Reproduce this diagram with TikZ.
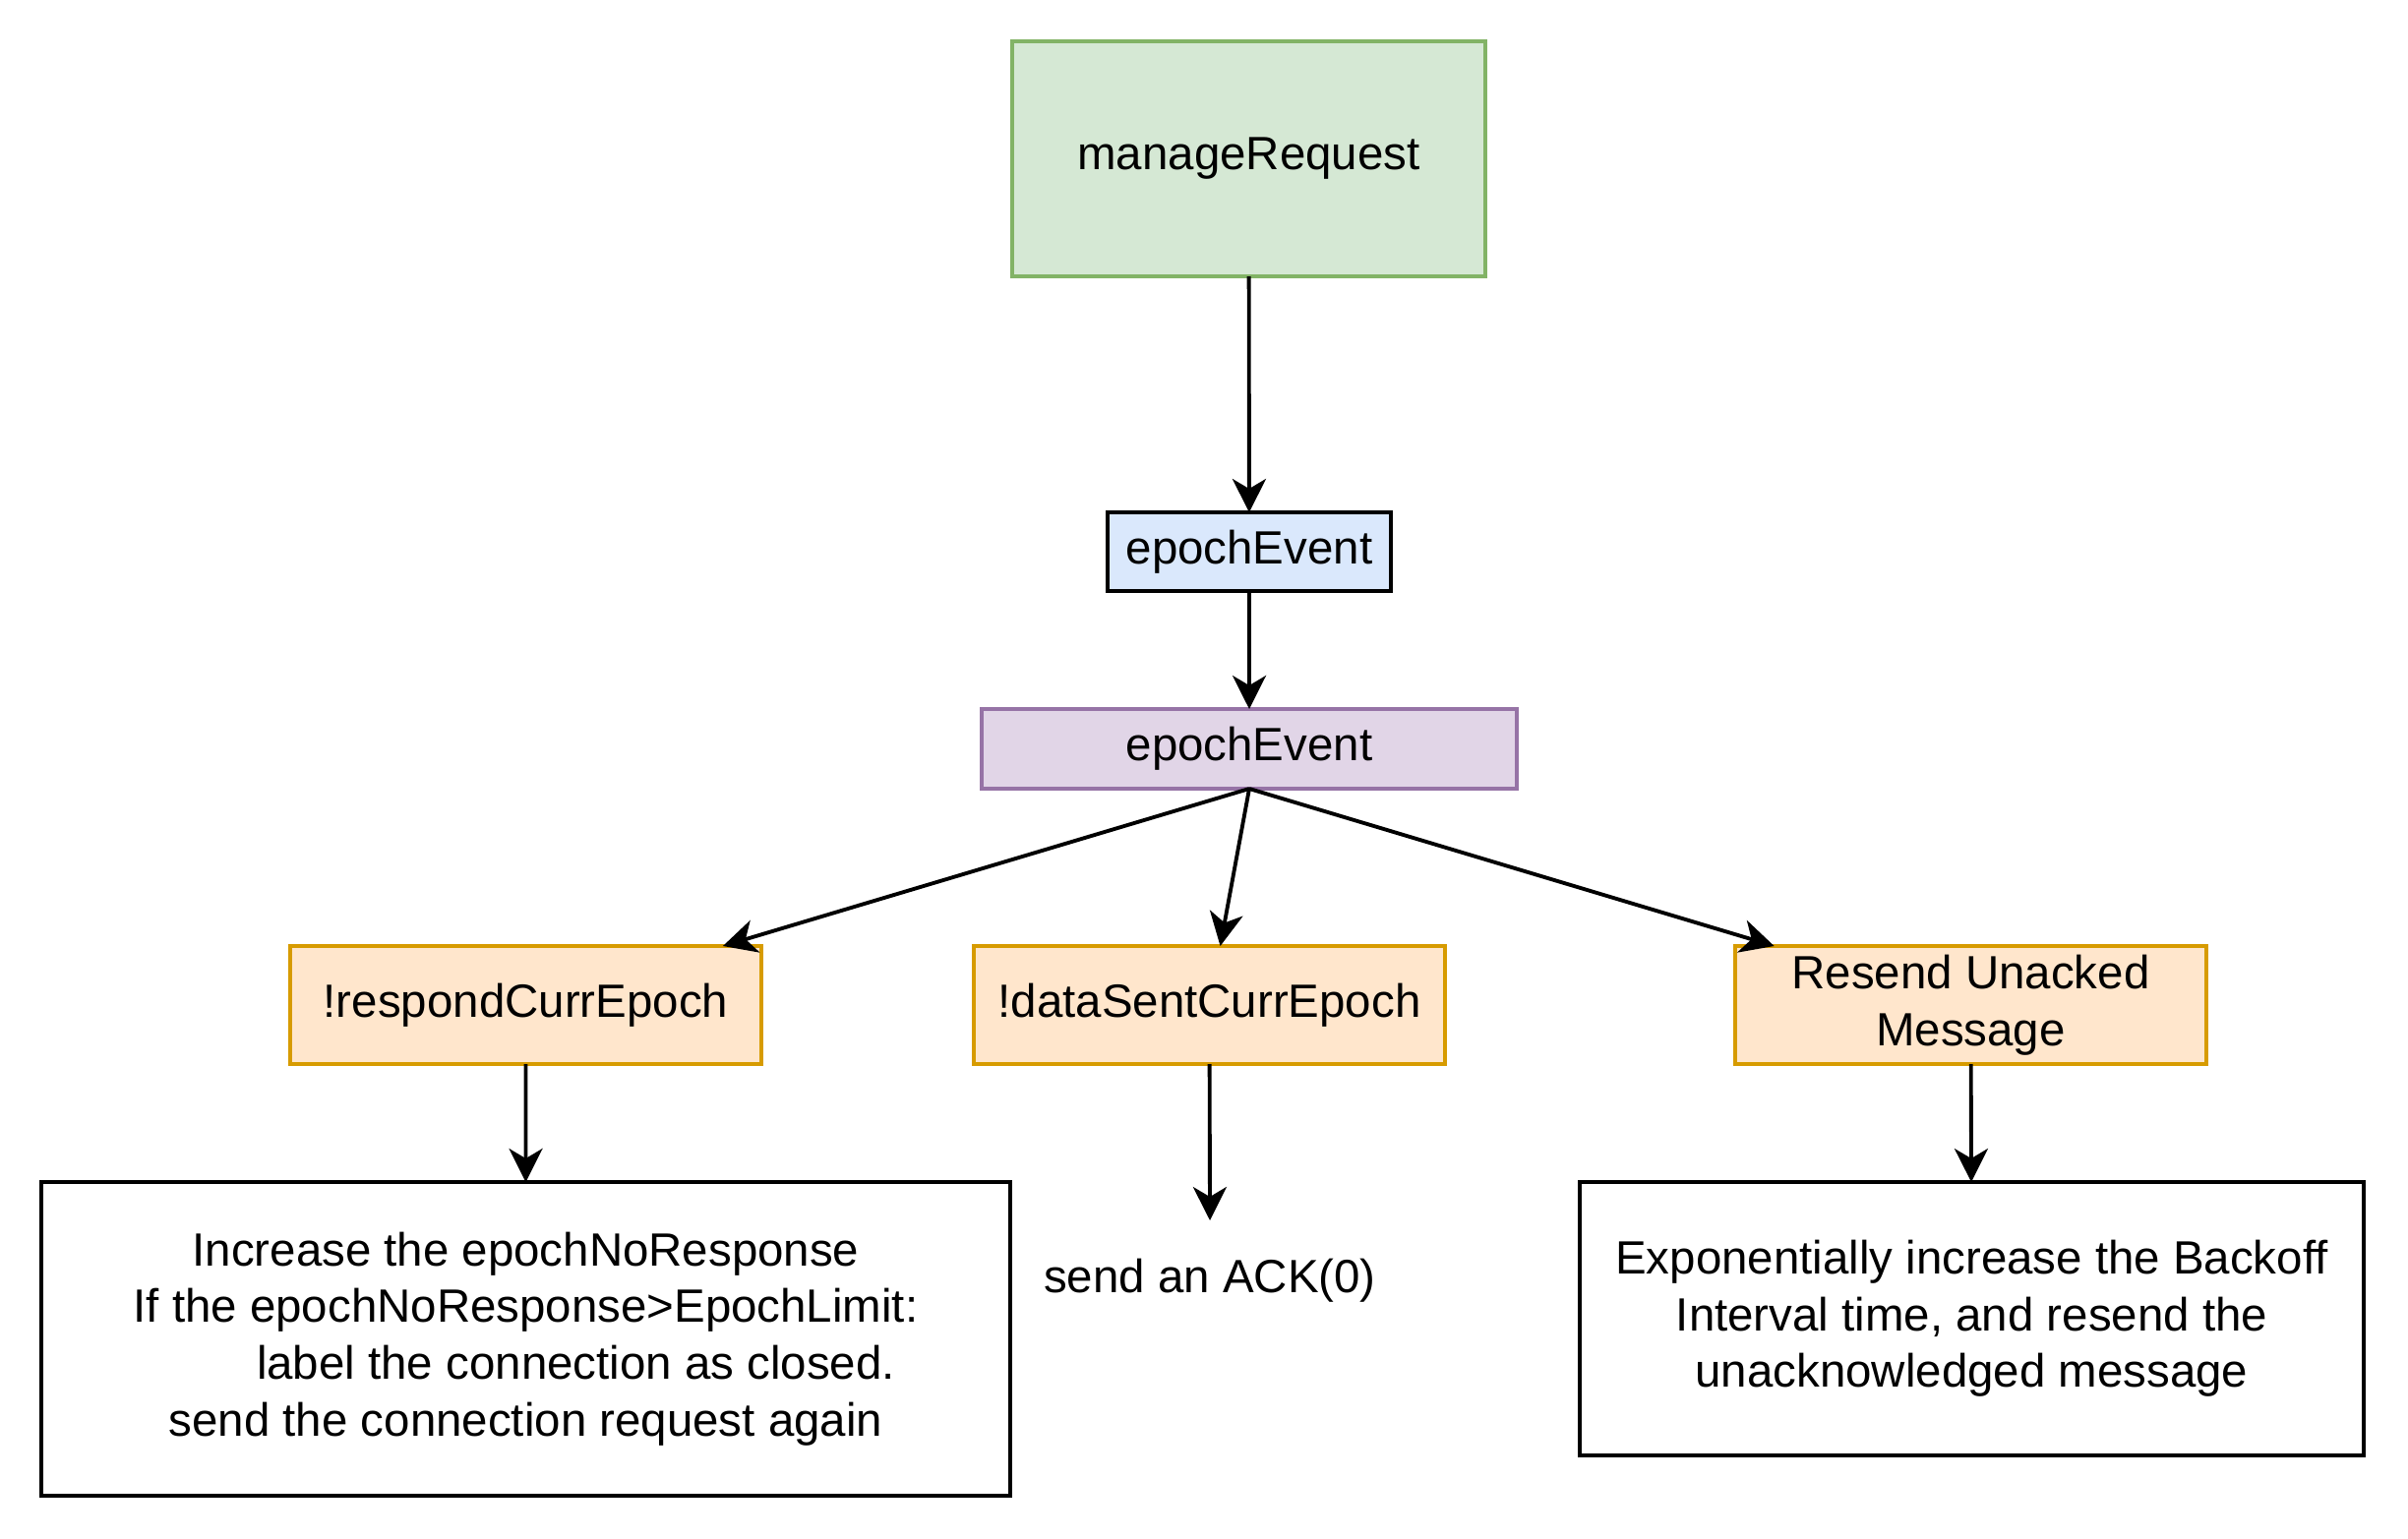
\documentclass[tikz,border=0pt]{standalone}
\usepackage{fontspec}
\setmainfont{Liberation Sans}
\usetikzlibrary{arrows.meta}

\definecolor{greenfill}{HTML}{D5E8D4}\definecolor{greenline}{HTML}{82B366}
\definecolor{bluefill}{HTML}{DAE8FC}
\definecolor{purplefill}{HTML}{E1D5E7}\definecolor{purpleline}{HTML}{9673A6}
\definecolor{orangefill}{HTML}{FFE6CC}\definecolor{orangeline}{HTML}{D79B00}

\begin{document}
\begin{tikzpicture}[x=1cm, y=-1cm, outer sep = 0pt, line width=1.1pt]

\tikzstyle{box}=[draw, rectangle, anchor=north west, align=center, inner sep=0pt, font=\fontsize{13.5}{16.4}\selectfont]
\tikzstyle{cond}=[box, fill=orangefill, draw=orangeline, minimum width=4.79cm, minimum height=1.20cm]
\tikzstyle{link}=[-{Stealth[length=0.34cm, width=0.34cm, inset=0.1cm]}]

\useasboundingbox (0,0) rectangle (24.48,15.64);

\node[box, fill=greenfill, draw=greenline, minimum width=4.81cm, minimum height=2.39cm] (manage) at (10.29,0.42) {manageRequest};
\node[box, fill=bluefill, minimum width=2.88cm, minimum height=0.80cm] (event) at (11.26,5.21) {epochEvent};
\node[box, fill=purplefill, draw=purpleline, minimum width=5.44cm, minimum height=0.81cm] (split) at (9.98,7.21) {epochEvent};

\node[cond] (respond) at (2.95,9.62) {!respondCurrEpoch}; \node[cond] (datasent) at (9.90,9.62) {!dataSentCurrEpoch}; \node[cond] (resend) at (17.64,9.62) {Resend Unacked\\Message};

\node[box, minimum width=9.85cm, minimum height=3.19cm] (closed) at (0.42,12.02) {Increase the epochNoResponse\\If the epochNoResponse>EpochLimit:\\\hspace*{29pt}label the connection as closed.\\send the connection request again};
\node[font=\fontsize{13.5}{16.4}\selectfont] (ack) at (12.30,13.02) {send an ACK(0)};
\coordinate (ackin) at (12.30,12.41);
\node[box, minimum width=7.97cm, minimum height=2.78cm] (backoff) at (16.06,12.02) {Exponentially increase the Backoff\\Interval time, and resend the\\unacknowledged message};

\draw[link] (manage) -- (event); \draw[link] (event) -- (split);
\draw[link] (split.south) -- (respond); \draw[link] (split.south) -- (datasent); \draw[link] (split.south) -- (resend);
\draw[link] (respond) -- (closed); \draw[link] (datasent) -- (ackin); \draw[link] (resend) -- (backoff);

\end{tikzpicture}
\end{document}
